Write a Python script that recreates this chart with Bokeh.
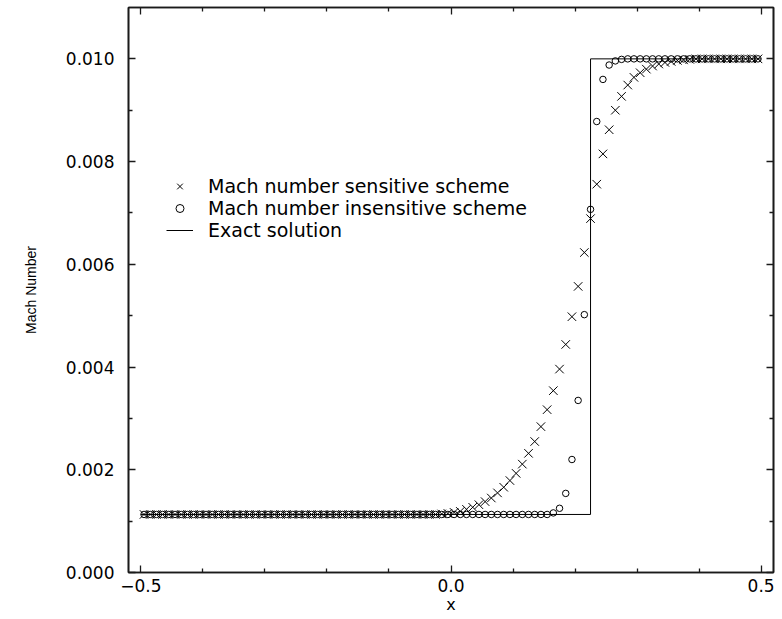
from bokeh.plotting import figure
from bokeh.models import (Range1d, LinearAxis, FixedTicker, Legend, LegendItem)
from bokeh.embed import file_html
from bokeh.resources import INLINE

# ---------------- data ----------------
x_cells = [
    -0.495, -0.485, -0.475, -0.465, -0.455, -0.445, -0.435, -0.425, -0.415, -0.405,
    -0.395, -0.385, -0.375, -0.365, -0.355, -0.345, -0.335, -0.325, -0.315, -0.305,
    -0.295, -0.285, -0.275, -0.265, -0.255, -0.245, -0.235, -0.225, -0.215, -0.205,
    -0.195, -0.185, -0.175, -0.165, -0.155, -0.145, -0.135, -0.125, -0.115, -0.105,
    -0.095, -0.085, -0.075, -0.065, -0.055, -0.045, -0.035, -0.025, -0.015, -0.005,
    0.005, 0.015, 0.025, 0.035, 0.045, 0.055, 0.065, 0.075, 0.085, 0.095,
    0.105, 0.115, 0.125, 0.135, 0.145, 0.155, 0.165, 0.175, 0.185, 0.195,
    0.205, 0.215, 0.225, 0.235, 0.245, 0.255, 0.265, 0.275, 0.285, 0.295,
    0.305, 0.315, 0.325, 0.335, 0.345, 0.355, 0.365, 0.375, 0.385, 0.395,
    0.405, 0.415, 0.425, 0.435, 0.445, 0.455, 0.465, 0.475, 0.485, 0.495,
]

mach_sensitive = [
    0.00113, 0.00113, 0.00113, 0.00113, 0.00113, 0.00113, 0.00113, 0.00113, 0.00113, 0.00113,
    0.00113, 0.00113, 0.00113, 0.00113, 0.00113, 0.00113, 0.00113, 0.00113, 0.00113, 0.00113,
    0.00113, 0.00113, 0.00113, 0.00113, 0.00113, 0.00113, 0.00113, 0.00113, 0.00113, 0.00113,
    0.00113, 0.00113, 0.00113, 0.00113, 0.00113, 0.00113, 0.00113, 0.00113, 0.00113, 0.00113,
    0.00113, 0.00113, 0.00113, 0.00113, 0.00113, 0.00113, 0.00113, 0.00113, 0.00114, 0.00115,
    0.00117, 0.00119, 0.00123, 0.00127, 0.00132, 0.00138, 0.00145, 0.00155, 0.00166, 0.00179,
    0.00193, 0.00211, 0.00232, 0.00255, 0.00284, 0.00317, 0.00354, 0.00396, 0.00444, 0.00498,
    0.00557, 0.00623, 0.00689, 0.00756, 0.00815, 0.00862, 0.00900, 0.00927, 0.00949, 0.00964,
    0.00973, 0.00980, 0.00986, 0.00990, 0.00993, 0.00995, 0.00997, 0.00998, 0.00999, 0.01000,
    0.01000, 0.01000, 0.01000, 0.01000, 0.01000, 0.01000, 0.01000, 0.01000, 0.01000, 0.01000,
]

mach_insensitive = [
    0.00113, 0.00113, 0.00113, 0.00113, 0.00113, 0.00113, 0.00113, 0.00113, 0.00113, 0.00113,
    0.00113, 0.00113, 0.00113, 0.00113, 0.00113, 0.00113, 0.00113, 0.00113, 0.00113, 0.00113,
    0.00113, 0.00113, 0.00113, 0.00113, 0.00113, 0.00113, 0.00113, 0.00113, 0.00113, 0.00113,
    0.00113, 0.00113, 0.00113, 0.00113, 0.00113, 0.00113, 0.00113, 0.00113, 0.00113, 0.00113,
    0.00113, 0.00113, 0.00113, 0.00113, 0.00113, 0.00113, 0.00113, 0.00113, 0.00113, 0.00113,
    0.00113, 0.00113, 0.00113, 0.00113, 0.00113, 0.00113, 0.00113, 0.00113, 0.00113, 0.00113,
    0.00113, 0.00113, 0.00113, 0.00113, 0.00113, 0.00113, 0.00116, 0.00125, 0.00154, 0.00220,
    0.00335, 0.00502, 0.00707, 0.00878, 0.00960, 0.00988, 0.00996, 0.00999, 0.01000, 0.01000,
    0.01000, 0.01000, 0.01000, 0.01000, 0.01000, 0.01000, 0.01000, 0.01000, 0.01000, 0.01000,
    0.01000, 0.01000, 0.01000, 0.01000, 0.01000, 0.01000, 0.01000, 0.01000, 0.01000, 0.01000,
]

exact_x = [-0.5, 0.225, 0.225, 0.5]
exact_y = [0.00113, 0.00113, 0.010, 0.010]

x_ticks = [-0.5, 0.0, 0.5]
x_tick_labels = ["\u22120.5", "0.0", "0.5"]
x_minor = [-0.4, -0.3, -0.2, -0.1, 0.1, 0.2, 0.3, 0.4]
y_ticks = [0.0, 0.002, 0.004, 0.006, 0.008, 0.010]
y_tick_labels = ["0.000", "0.002", "0.004", "0.006", "0.008", "0.010"]
y_minor = [0.001, 0.003, 0.005, 0.007, 0.009]

labels = ["Mach number sensitive scheme", "Mach number insensitive scheme", "Exact solution"]

# ---------------- figure ----------------
FONT = "DejaVu Sans"
p = figure(width=782, height=619, output_backend="svg", toolbar_location=None,
           x_range=Range1d(-0.52, 0.52), y_range=Range1d(0.0, 0.011),
           x_axis_label="x", y_axis_label="Mach Number",
           min_border_left=128, min_border_right=9, min_border_top=7, min_border_bottom=47)
p.xgrid.visible = False
p.ygrid.visible = False
p.background_fill_color = "white"
p.border_fill_color = "white"
p.outline_line_color = "#1a1a1a"
p.outline_line_width = 1.6

xt = FixedTicker(ticks=x_ticks, minor_ticks=x_minor)
yt = FixedTicker(ticks=y_ticks, minor_ticks=y_minor)


def style(ax):
    ax.axis_line_color = "#1a1a1a"
    ax.axis_line_width = 1.6
    ax.major_tick_in = 7
    ax.major_tick_out = 0
    ax.minor_tick_in = 4
    ax.minor_tick_out = 0
    ax.major_tick_line_color = "#1a1a1a"
    ax.minor_tick_line_color = "#1a1a1a"
    ax.major_tick_line_width = 1.3
    ax.minor_tick_line_width = 1.3
    ax.major_label_text_font = FONT
    ax.major_label_text_font_size = "17px"
    ax.major_label_text_color = "black"


xa = p.xaxis[0]
xa.ticker = xt
xa.major_label_overrides = dict(zip(x_ticks, x_tick_labels))
style(xa)
xa.major_label_standoff = 6
xa.axis_label_text_font = FONT
xa.axis_label_text_font_size = "16px"
xa.axis_label_text_font_style = "normal"
xa.axis_label_text_color = "black"
xa.axis_label_standoff = 0

ya = p.yaxis[0]
ya.ticker = yt
ya.major_label_overrides = dict(zip(y_ticks, y_tick_labels))
style(ya)
ya.major_label_standoff = 14
ya.axis_label_text_font = "Liberation Sans"
ya.axis_label_text_font_size = "14px"
ya.axis_label_text_font_style = "normal"
ya.axis_label_text_color = "black"
ya.axis_label_standoff = 24

# mirrored tick marks on the top and right sides (no labels)
top = LinearAxis(ticker=xt)
style(top)
top.major_label_overrides = {t: "" for t in x_ticks}
top.major_label_standoff = 0
p.add_layout(top, "above")
right = LinearAxis(ticker=yt)
style(right)
right.major_label_overrides = {t: "" for t in y_ticks}
right.major_label_standoff = 0
p.add_layout(right, "right")

# ---------------- glyphs ----------------
r_exact = p.line(exact_x, exact_y, line_color="black", line_width=1)
r_sens = p.scatter(x_cells, mach_sensitive, marker="x", size=12,
                   line_color="black", line_width=1)
r_insens = p.scatter(x_cells, mach_insensitive, marker="circle", size=6.5,
                     fill_color=None, line_color="black", line_width=1)

legend = Legend(items=[LegendItem(label=labels[0], renderers=[r_sens]),
                       LegendItem(label=labels[1], renderers=[r_insens]),
                       LegendItem(label=labels[2], renderers=[r_exact])],
                location=(38, 331), orientation="vertical",
                glyph_width=27, glyph_height=20, label_height=20,
                label_standoff=15, spacing=0, padding=0, margin=0,
                border_line_color=None, background_fill_alpha=0,
                label_text_font=FONT, label_text_font_size="19px",
                label_text_color="black")
p.add_layout(legend, "center")

open("out.html", "w").write(file_html(p, INLINE))
